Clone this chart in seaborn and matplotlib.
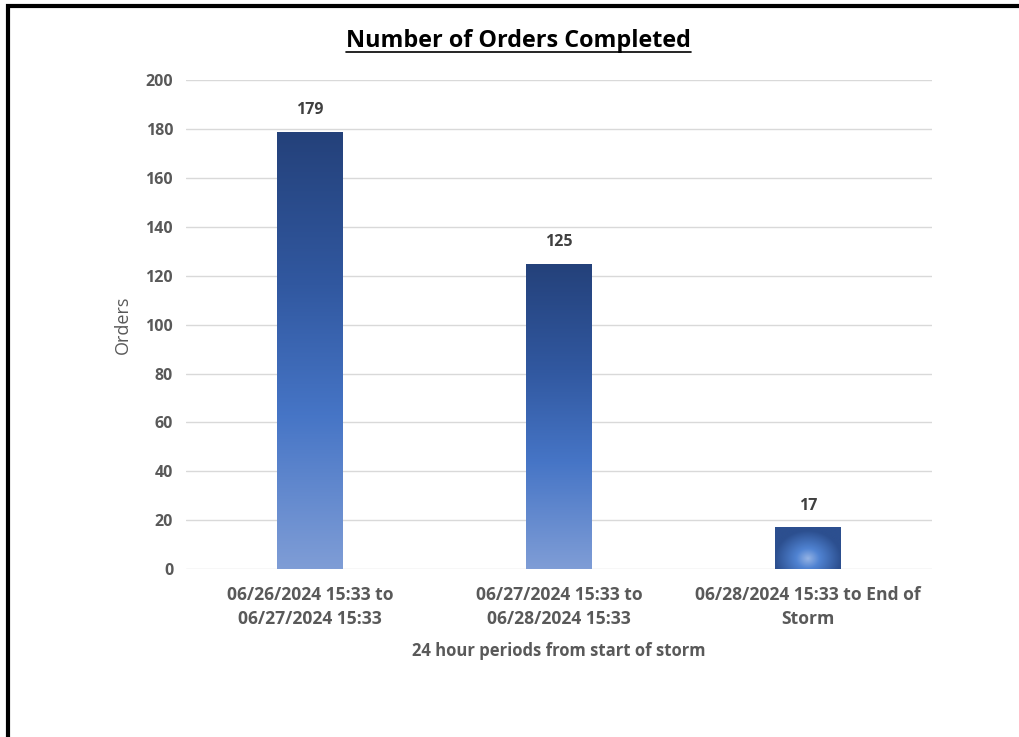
import numpy as np
import pandas as pd
import matplotlib
matplotlib.use("Agg")
import matplotlib.pyplot as plt
from matplotlib.colors import LinearSegmentedColormap
from matplotlib.lines import Line2D
import seaborn as sns

# --- Chart data ---
periods = [
    "06/26/2024 15:33 to\n06/27/2024 15:33",
    "06/27/2024 15:33 to\n06/28/2024 15:33",
    "06/28/2024 15:33 to End of\nStorm",
]
orders = [179, 125, 17]
y_ticks = list(range(0, 201, 20))

df = pd.DataFrame({"period": periods, "orders": orders})

sns.set_theme(style="white")
plt.rcParams["font.family"] = ["Open Sans", "DejaVu Sans"]

fig = plt.figure(figsize=(10.2, 7.37), dpi=100)
ax = fig.add_axes([0.182, 0.228, 0.732, 0.663])

sns.barplot(data=df, x="period", y="orders", width=0.262, color="#4472c4", ax=ax)

# --- gradient fills clipped to each bar ---
lin_cmap = LinearSegmentedColormap.from_list(
    "bar_lin", [(0.0, "#24417a"), (0.35, "#3158a0"), (0.65, "#4675c6"), (1.0, "#7f9dd6")])
rad_cmap = LinearSegmentedColormap.from_list(
    "bar_rad", [(0.0, "#93b2e4"), (0.35, "#5083d2"), (1.0, "#2c4f8f")])

for i, patch in enumerate(ax.patches):
    x0, y0 = patch.get_x(), patch.get_y()
    w, h = patch.get_width(), patch.get_height()
    if i < 2:
        grad = np.linspace(0, 1, 256).reshape(-1, 1)
        img = ax.imshow(grad, cmap=lin_cmap, extent=[x0, x0 + w, y0, y0 + h],
                        aspect="auto", origin="upper", zorder=2)
    else:
        gx, gy = np.meshgrid(np.linspace(-1, 1, 200), np.linspace(0, 1, 100))
        r = np.sqrt(gx ** 2 + ((gy - 0.25) * 1.5) ** 2)
        img = ax.imshow(np.clip(r, 0, 1), cmap=rad_cmap, extent=[x0, x0 + w, y0, y0 + h],
                        aspect="auto", origin="lower", zorder=2)
    img.set_clip_path(patch)
    patch.set_facecolor("none")
    patch.set_edgecolor("none")
    ax.annotate(f"{orders[i]}", (x0 + w / 2, y0 + h), xytext=(0, 10),
                textcoords="offset points", ha="center", va="bottom",
                fontsize=11.5, fontweight="bold", color="#404040")

ax.set_xlim(-0.5, 2.5)
ax.set_ylim(0, 200)
ax.set_yticks(y_ticks)
ax.yaxis.grid(True, color="#d9d9d9", linewidth=1)
ax.set_axisbelow(True)
for s in ax.spines.values():
    s.set_visible(False)

ax.tick_params(axis="both", length=0)
ax.tick_params(axis="y", pad=9, labelsize=11.5, labelcolor="#595959")
ax.tick_params(axis="x", pad=12, labelsize=12.6, labelcolor="#595959")
for lab in ax.get_xticklabels() + ax.get_yticklabels():
    lab.set_fontweight("bold")
for lab in ax.get_xticklabels():
    lab.set_linespacing(1.45)

ax.set_ylabel("Orders", fontsize=13, color="#595959", labelpad=10)
ax.set_xlabel("24 hour periods from start of storm", fontsize=12, fontweight="bold",
              color="#595959", labelpad=10)

title = fig.text(0.508, 0.944, "Number of Orders Completed", ha="center", va="center",
                 fontsize=16.8, fontweight="bold", color="black")

# underline the title
fig.canvas.draw()
bb = title.get_window_extent().transformed(fig.transFigure.inverted())
fig.add_artist(Line2D([bb.x0, bb.x1], [bb.y0 + 0.002, bb.y0 + 0.002],
                      transform=fig.transFigure, color="black", linewidth=1.2))

# black frame on the left and top
fig.add_artist(Line2D([8 / 1020, 8 / 1020, 1.0], [0.0, 1 - 6 / 737, 1 - 6 / 737],
                      transform=fig.transFigure, color="black", linewidth=3,
                      solid_joinstyle="miter"))

fig.savefig("out.png", dpi=100)
